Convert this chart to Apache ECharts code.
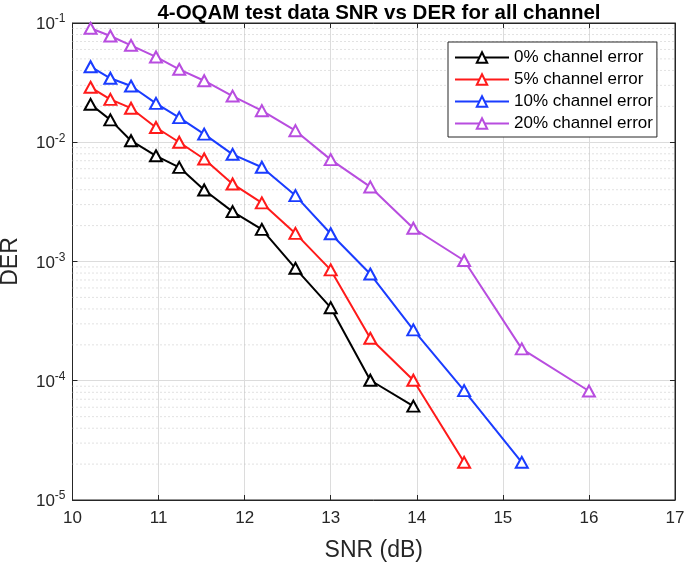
<!DOCTYPE html>
<html>
<head>
<meta charset="utf-8">
<script src="https://cdn.jsdelivr.net/npm/echarts@6/dist/echarts.min.js"></script>
<style>html,body{margin:0;padding:0;background:#fff;}#c{width:685px;height:569px;}</style>
</head>
<body>
<div id="c"></div>
<script>
const snr = [10.21, 10.44, 10.68, 10.97, 11.24, 11.53, 11.86, 12.2, 12.59, 13.0, 13.46, 13.96, 14.55, 15.22, 16.0];
const der0 = [0.0208, 0.0154, 0.0103, 0.0077, 0.00616, 0.00398, 0.00262, 0.00186, 0.000877, 0.00041, 0.000101, 0.0000613];
const der5 = [0.0289, 0.0229, 0.0193, 0.0133, 0.0100, 0.00724, 0.00447, 0.0031, 0.00172, 0.00085, 0.000227, 0.000101, 0.0000207];
const der10 = [0.043, 0.0344, 0.0296, 0.0212, 0.0161, 0.0117, 0.00792, 0.00617, 0.00357, 0.00171, 0.000785, 0.000267, 0.0000826, 0.0000207];
const der20 = [0.0903, 0.0778, 0.065, 0.0519, 0.0409, 0.0328, 0.0244, 0.0184, 0.0125, 0.00715, 0.00422, 0.0019, 0.00102, 0.000185, 0.000082];
const seriesNames = ['0% channel error', '5% channel error', '10% channel error', '20% channel error'];
const seriesColors = ['#000000', '#ff1a1a', '#1a3cff', '#b84ddf'];
const decades = [1e-5, 1e-4, 1e-3, 1e-2];
const minorMultipliers = [2, 3, 4, 5, 6, 7, 8, 9];
const xTicks = [10, 11, 12, 13, 14, 15, 16, 17];
const xRange = [10, 17];

const allData = [der0, der5, der10, der20];
const minorValues = [];
decades.forEach(d => minorMultipliers.forEach(m => minorValues.push(+(m * d).toPrecision(3))));

const FONT = 'Liberation Sans, Arial, sans-serif';
const AX = '#262626';

const series = [];
// minor (dotted) log gridlines, drawn through the axis scale
minorValues.forEach(v => series.push({
  type: 'line',
  z: 1,
  silent: true,
  symbol: 'none',
  data: [[xRange[0], v], [xRange[1], v]],
  lineStyle: { color: '#c4c4c4', type: [1, 3], width: 1 },
  emphasis: { disabled: true },
  tooltip: { show: false },
  animation: false
}));
allData.forEach((arr, i) => series.push({
  name: seriesNames[i],
  type: 'line',
  z: 3,
  data: arr.map((v, j) => [snr[j], v]),
  symbol: 'triangle',
  symbolSize: [12, 11],
  lineStyle: { color: seriesColors[i], width: 2 },
  itemStyle: { color: '#ffffff', borderColor: seriesColors[i], borderWidth: 2 },
  animation: false
}));

const chart = echarts.init(document.getElementById('c'), null, { renderer: 'canvas' });
chart.setOption({
  backgroundColor: '#ffffff',
  animation: false,
  title: {
    text: '4-OQAM test data SNR vs DER for all channel',
    left: 374,
    textAlign: 'center',
    top: -2,
    textStyle: { fontFamily: FONT, fontSize: 20.5, fontWeight: 'bold', color: '#000' }
  },
  grid: { left: 72.5, right: 10, top: 23, bottom: 69, show: true, borderColor: AX, borderWidth: 1, backgroundColor: 'transparent', outerBoundsMode: 'none', containLabel: false },
  legend: {
    data: seriesNames,
    orient: 'vertical',
    left: 448,
    top: 42,
    itemWidth: 54,
    itemHeight: 13,
    itemGap: 5,
    padding: [7, 4, 5, 6],
    backgroundColor: '#fff',
    borderColor: AX,
    borderWidth: 1,
    borderRadius: 0,
    textStyle: { fontFamily: FONT, fontSize: 17, color: '#000', lineHeight: 17 }
  },
  xAxis: [{
    type: 'value',
    min: xRange[0], max: xRange[1], interval: 1,
    name: 'SNR (dB)',
    nameLocation: 'middle',
    nameGap: 39,
    nameTextStyle: { fontFamily: FONT, fontSize: 23, color: AX },
    axisLine: { show: true, lineStyle: { color: AX } },
    axisTick: { show: true, inside: true, length: 5, lineStyle: { color: AX } },
    axisLabel: { fontFamily: FONT, fontSize: 17, color: AX, margin: 10, formatter: v => xTicks.includes(v) ? String(v) : '' },
    splitLine: { show: true, lineStyle: { color: '#dcdcdc', width: 1 } }
  }, {
    type: 'value', position: 'top',
    min: xRange[0], max: xRange[1], interval: 1,
    axisLine: { show: true, lineStyle: { color: AX } },
    axisTick: { show: true, inside: true, length: 5, lineStyle: { color: AX } },
    axisLabel: { show: false },
    splitLine: { show: false }
  }],
  yAxis: [{
    type: 'log',
    logBase: 10,
    min: 1e-5, max: 1e-1,
    name: 'DER',
    nameLocation: 'middle',
    nameGap: 50,
    nameTextStyle: { fontFamily: FONT, fontSize: 23, color: AX },
    axisLine: { show: true, lineStyle: { color: AX } },
    axisTick: { show: true, inside: true, length: 5, lineStyle: { color: AX } },
    axisLabel: {
      margin: 7,
      formatter: v => '{b|10}{s|' + Math.round(Math.log10(v)) + '}',
      rich: {
        b: { fontFamily: FONT, fontSize: 17, color: AX, lineHeight: 20, verticalAlign: 'bottom' },
        s: { fontFamily: FONT, fontSize: 12, color: AX, lineHeight: 20, verticalAlign: 'top' }
      }
    },
    splitLine: { show: true, lineStyle: { color: '#dcdcdc', width: 1 } }
  }, {
    type: 'log', logBase: 10, position: 'right',
    min: 1e-5, max: 1e-1,
    axisLine: { show: true, lineStyle: { color: AX } },
    axisTick: { show: true, inside: true, length: 5, lineStyle: { color: AX } },
    axisLabel: { show: false },
    splitLine: { show: false }
  }],
  series: series
});
</script>
</body>
</html>
